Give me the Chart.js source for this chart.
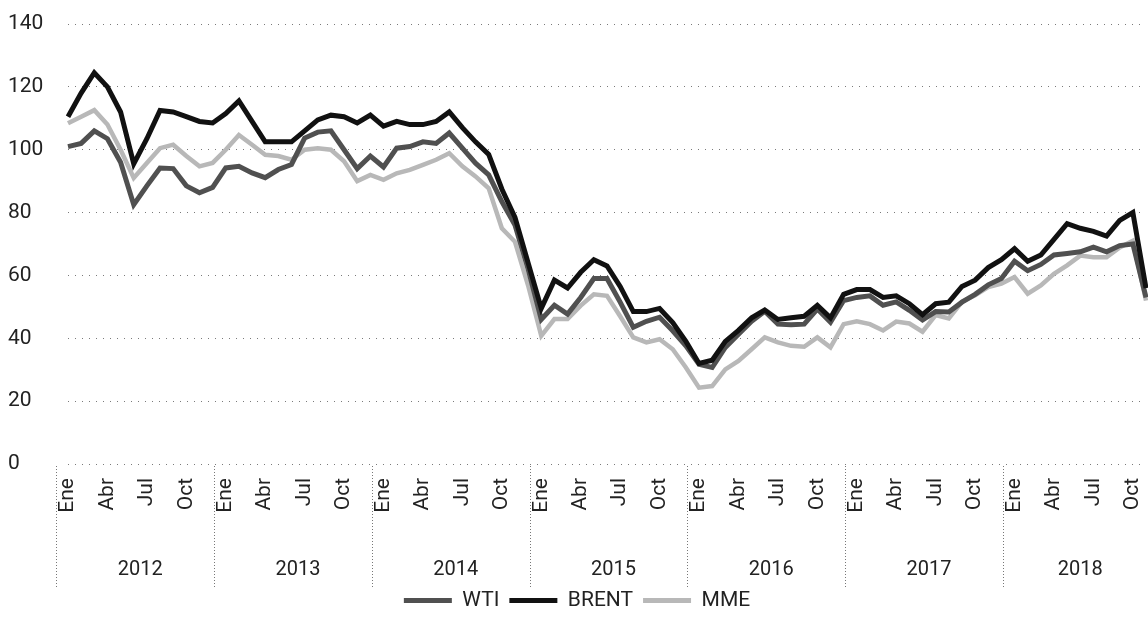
<!DOCTYPE html>
<html>
<head>
<meta charset="utf-8">
<script src="https://cdn.jsdelivr.net/npm/chart.js@4.4.1/dist/chart.umd.min.js"></script>
<style>
  html, body { margin: 0; padding: 0; background: #fff; }
  #wrap { width: 1148px; height: 624px; }
</style>
</head>
<body>
<div id="wrap"><canvas id="grafico"></canvas></div>
<script>
// Precios mensuales del crudo (dólares por barril), Ene 2012 - Nov 2018
const years = ['2012', '2013', '2014', '2015', '2016', '2017', '2018'];
const monthNames = ['Ene', 'Feb', 'Mar', 'Abr', 'May', 'Jun', 'Jul', 'Ago', 'Sep', 'Oct', 'Nov', 'Dic'];
const yTicks = [0, 20, 40, 60, 80, 100, 120, 140];

const wti = [
  101, 102, 106, 103.5, 96, 82.5, 88.5, 94.2, 94, 88.5, 86.3, 88,
  94.2, 94.7, 92.6, 91.1, 93.7, 95.3, 103.7, 105.6, 106, 100, 94, 98,
  94.5, 100.5, 101, 102.5, 102, 105.3, 100.5, 95.7, 92, 83.5, 76, 62,
  46, 50.5, 47.7, 53, 59, 59, 51.5, 43.5, 45.4, 46.7, 42.4, 37.6,
  31.7, 30.7, 37.1, 41.3, 45.4, 48.6, 44.5, 44.3, 44.5, 49.3, 45.1, 52,
  53, 53.5, 50.5, 51.6, 48.9, 45.8, 48.5, 48.4, 51.5, 54, 57, 59,
  64.5, 61.5, 63.5, 66.5, 67, 67.5, 69, 67.5, 69.5, 70, 53
];
const brent = [
  110.5, 118, 124.5, 120, 112, 95.5, 103.5, 112.5, 112, 110.5, 109, 108.5,
  111.5, 115.5, 109, 102.5, 102.5, 102.5, 106, 109.5, 111, 110.5, 108.5, 111,
  107.5, 109, 108, 108, 109, 112, 107, 102.5, 98.5, 87.5, 78.5, 64,
  49.5, 58.5, 56, 61, 65, 63, 56.5, 48.5, 48.5, 49.5, 45, 39,
  32, 33, 39, 42.5, 46.5, 49, 46, 46.5, 47, 50.5, 46.5, 54,
  55.5, 55.5, 53, 53.5, 51, 47.5, 51, 51.5, 56.5, 58.5, 62.5, 65,
  68.5, 64.5, 66.5, 71.5, 76.5, 75, 74, 72.5, 77.5, 80, 56
];
const mme = [
  108.4, 110.5, 112.6, 108, 100, 91, 95.8, 100.5, 101.6, 98, 94.7, 95.8,
  100, 104.7, 101.6, 98.4, 98, 96.8, 100, 100.5, 100, 96.3, 90, 92,
  90.4, 92.5, 93.6, 95.2, 96.8, 98.9, 94.7, 91.5, 87.7, 75, 70.7, 56.8,
  40.8, 46.1, 46.1, 50.4, 54, 53.5, 47, 40.3, 38.7, 39.7, 36.5, 30.7,
  24.3, 24.8, 30.1, 32.8, 36.5, 40.3, 38.7, 37.6, 37.3, 40.3, 37.1, 44.5,
  45.4, 44.5, 42.5, 45.3, 44.7, 42.1, 47.4, 46.3, 51.6, 53.7, 56.3, 57.4,
  59.5, 54.2, 56.8, 60.5, 63.2, 66.3, 65.8, 65.8, 68.9, 71, 52
];

// etiquetas de categoría: un mes por punto
const categories = [];
years.forEach(y => monthNames.forEach(m => categories.push(m + ' ' + y)));
categories.length = wti.length;

const FONT = "Roboto, 'Noto Sans', sans-serif";
const TEXT = '#222';
const last = wti.length - 1;

// separadores punteados entre años, debajo del eje
const yearSeparators = {
  id: 'yearSeparators',
  afterDraw(chart) {
    const x2 = chart.scales.x2;
    const ctx = chart.ctx;
    ctx.save();
    ctx.strokeStyle = '#777';
    ctx.lineWidth = 1;
    ctx.setLineDash([1, 2]);
    years.forEach((y, i) => {
      const px = Math.round(x2.getPixelForValue(i * 12 - 0.5)) - 4.5;
      ctx.beginPath();
      ctx.moveTo(px, chart.chartArea.bottom + 2);
      ctx.lineTo(px, x2.bottom + 8);
      ctx.stroke();
    });
    ctx.restore();
  }
};

const ctx = document.getElementById('grafico').getContext('2d');
new Chart(ctx, {
  type: 'line',
  data: {
    labels: categories,
    datasets: [
      { label: 'WTI', data: wti, borderColor: '#505050', backgroundColor: '#505050', borderWidth: 5, order: 2 },
      { label: 'BRENT', data: brent, borderColor: '#111111', backgroundColor: '#111111', borderWidth: 5, order: 1 },
      { label: 'MME', data: mme, borderColor: '#b8b8b8', backgroundColor: '#b8b8b8', borderWidth: 4.5, order: 3 }
    ]
  },
  options: {
    responsive: true,
    maintainAspectRatio: false,
    animation: false,
    layout: { padding: { top: 24, left: 8, right: 2, bottom: 3 } },
    elements: {
      point: { radius: 0, hoverRadius: 0 },
      line: { tension: 0, borderJoinStyle: 'miter', borderCapStyle: 'butt' }
    },
    plugins: {
      tooltip: { enabled: false },
      legend: {
        position: 'bottom',
        labels: {
          color: TEXT,
          font: { family: FONT, size: 21 },
          boxWidth: 48,
          boxHeight: 5,
          padding: 10,
          generateLabels(chart) {
            return chart.data.datasets.map((ds, i) => ({
              text: ds.label,
              fillStyle: ds.borderColor,
              strokeStyle: ds.borderColor,
              lineWidth: 0,
              fontColor: TEXT,
              hidden: false,
              datasetIndex: i
            }));
          }
        }
      }
    },
    scales: {
      x: {
        type: 'category',
        offset: false,
        grid: { display: false },
        border: { display: false },
        ticks: {
          autoSkip: false,
          maxRotation: 90,
          minRotation: 90,
          padding: 6,
          color: TEXT,
          font: { family: FONT, size: 21 },
          callback(value, index) {
            return index % 3 === 0 ? monthNames[index % 12] : '';
          }
        },
        afterFit(scale) {
          scale.height = 50;
          scale.paddingLeft = 0;
          scale.paddingRight = 0;
        }
      },
      x2: {
        type: 'linear',
        position: 'bottom',
        min: 0,
        max: last,
        grid: { display: false },
        border: { display: false },
        afterBuildTicks(scale) {
          scale.ticks = years.map((y, i) => ({ value: Math.min(i * 12 + 5.5, (i * 12 + last) / 2) }));
        },
        ticks: {
          padding: 36,
          color: TEXT,
          font: { family: FONT, size: 20 },
          maxRotation: 0,
          callback(value, index) { return years[index]; }
        },
        afterFit(scale) {
          scale.height = 66;
          scale.paddingLeft = 0;
          scale.paddingRight = 0;
        }
      },
      y: {
        min: yTicks[0],
        max: yTicks[yTicks.length - 1],
        afterBuildTicks(scale) {
          scale.ticks = yTicks.map(v => ({ value: v }));
        },
        border: { display: false, dash: [1, 6] },
        grid: {
          color: '#7a7a7a',
          lineWidth: 1,
          drawTicks: false
        },
        ticks: {
          color: TEXT,
          crossAlign: 'far',
          padding: 8,
          font: { family: FONT, size: 21 }
        },
        afterFit(scale) {
          scale.width = 60;
        }
      }
    }
  },
  plugins: [yearSeparators]
});
</script>
</body>
</html>
